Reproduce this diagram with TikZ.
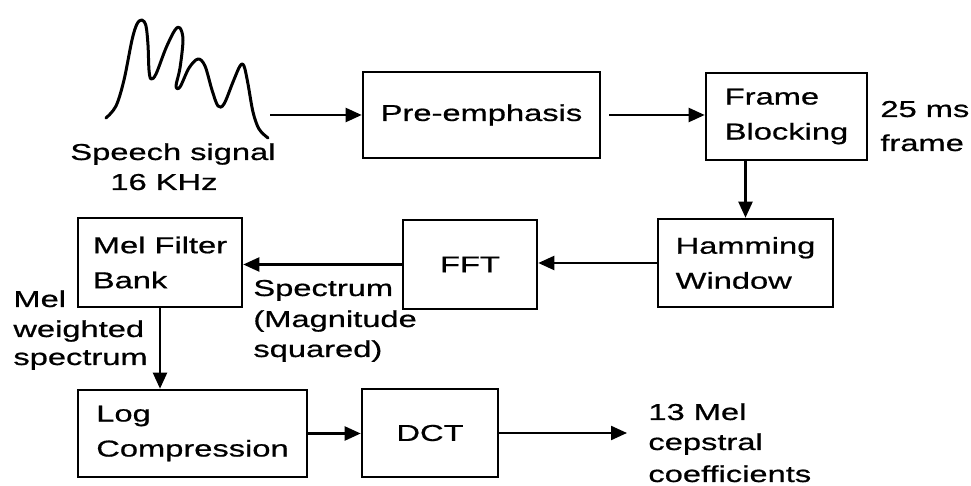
\documentclass[tikz,border=0pt]{standalone}
\usepackage{fontspec}
\setmainfont[FakeStretch=1.42,FakeBold=0.7]{Liberation Sans}
\usetikzlibrary{arrows.meta}
\begin{document}
\begin{tikzpicture}[x=0.5pt,y=-0.5pt,
  font=\fontsize{11.5}{17.5}\selectfont,
  box/.style={draw,line width=1.3pt,inner sep=0pt,align=left},
  arr/.style={line width=1.1pt,-{Triangle[length=8pt,width=7pt]}},
  lbl/.style={inner sep=0pt,anchor=base west},
  wave/.style={line width=1.5pt,line cap=round,line join=round}]
\useasboundingbox (0,0) rectangle (971,486);

% boxes
\node[box,minimum width=118.5pt,minimum height=43pt] (pre) at (481.5,115) {Pre-emphasis};
\node[box,minimum width=80.5pt,minimum height=43.5pt] (fb) at (786.5,116.5) {Frame\\Blocking};
\node[box,minimum width=87.5pt,minimum height=44pt] (ham) at (745.5,263) {Hamming\\Window};
\node[box,minimum width=67pt,minimum height=44.5pt] (fft) at (470,264.5) {FFT};
\node[box,minimum width=82pt,minimum height=44.5pt] (mel) at (160,262.5) {Mel Filter\\Bank};
\node[box,minimum width=114.5pt,minimum height=43.5pt] (log) at (192.5,433.5) {Log\\Compression};
\node[box,minimum width=68pt,minimum height=44pt] (dct) at (430,433) {DCT};

% speech waveform
\draw[wave] plot[smooth,tension=0.55] coordinates {(106,118) (116,106) (124,80) (132,40) (137,24) (142,20) (146,26) (148,45) (149,70) (151,79) (156,74) (166,48) (175,30) (180,28) (183,40) (180,68) (176,86) (180,87) (189,68) (198,59) (205,66) (212,90) (218,106) (224,104) (233,82) (240,66) (244,66) (248,84) (253,112) (259,129) (268,138)};
\coordinate (sig) at (270,115);
\coordinate (out) at (627,433);

% labels
\node[lbl] (s1) at (70,160) {Speech signal};
\node[lbl] (s2) at (110,190) {16 KHz};
\node[lbl] (t1) at (880,117) {25 ms};
\node[lbl] (t2) at (880,151) {frame};
\node[lbl] (sp1) at (253,296) {Spectrum};
\node[lbl] (sp2) at (253,327) {(Magnitude};
\node[lbl] (sp3) at (253,357) {squared)};
\node[lbl] (m1) at (13,307) {Mel};
\node[lbl] (m2) at (13,337) {weighted};
\node[lbl] (m3) at (13,365) {spectrum};
\node[lbl] (c1) at (648,420) {13 Mel};
\node[lbl] (c2) at (648,450) {cepstral};
\node[lbl] (c3) at (648,482) {coefficients};

% connectors
\draw[arr] (sig) -- (sig -| pre.west);
\draw[arr,shorten <=4pt] (pre.east) -- (pre.east -| fb.west);
\draw[arr] (fb.south -| ham.north) -- (ham.north);
\draw[arr] (ham.west) -- (ham.west -| fft.east);
\draw[arr] (fft.west) -- (fft.west -| mel.east);
\draw[arr] (mel.south) -- (mel.south |- log.north);
\draw[arr] (log.east) -- (log.east -| dct.west);
\draw[arr] (dct.east) -- (out);
\end{tikzpicture}
\end{document}
